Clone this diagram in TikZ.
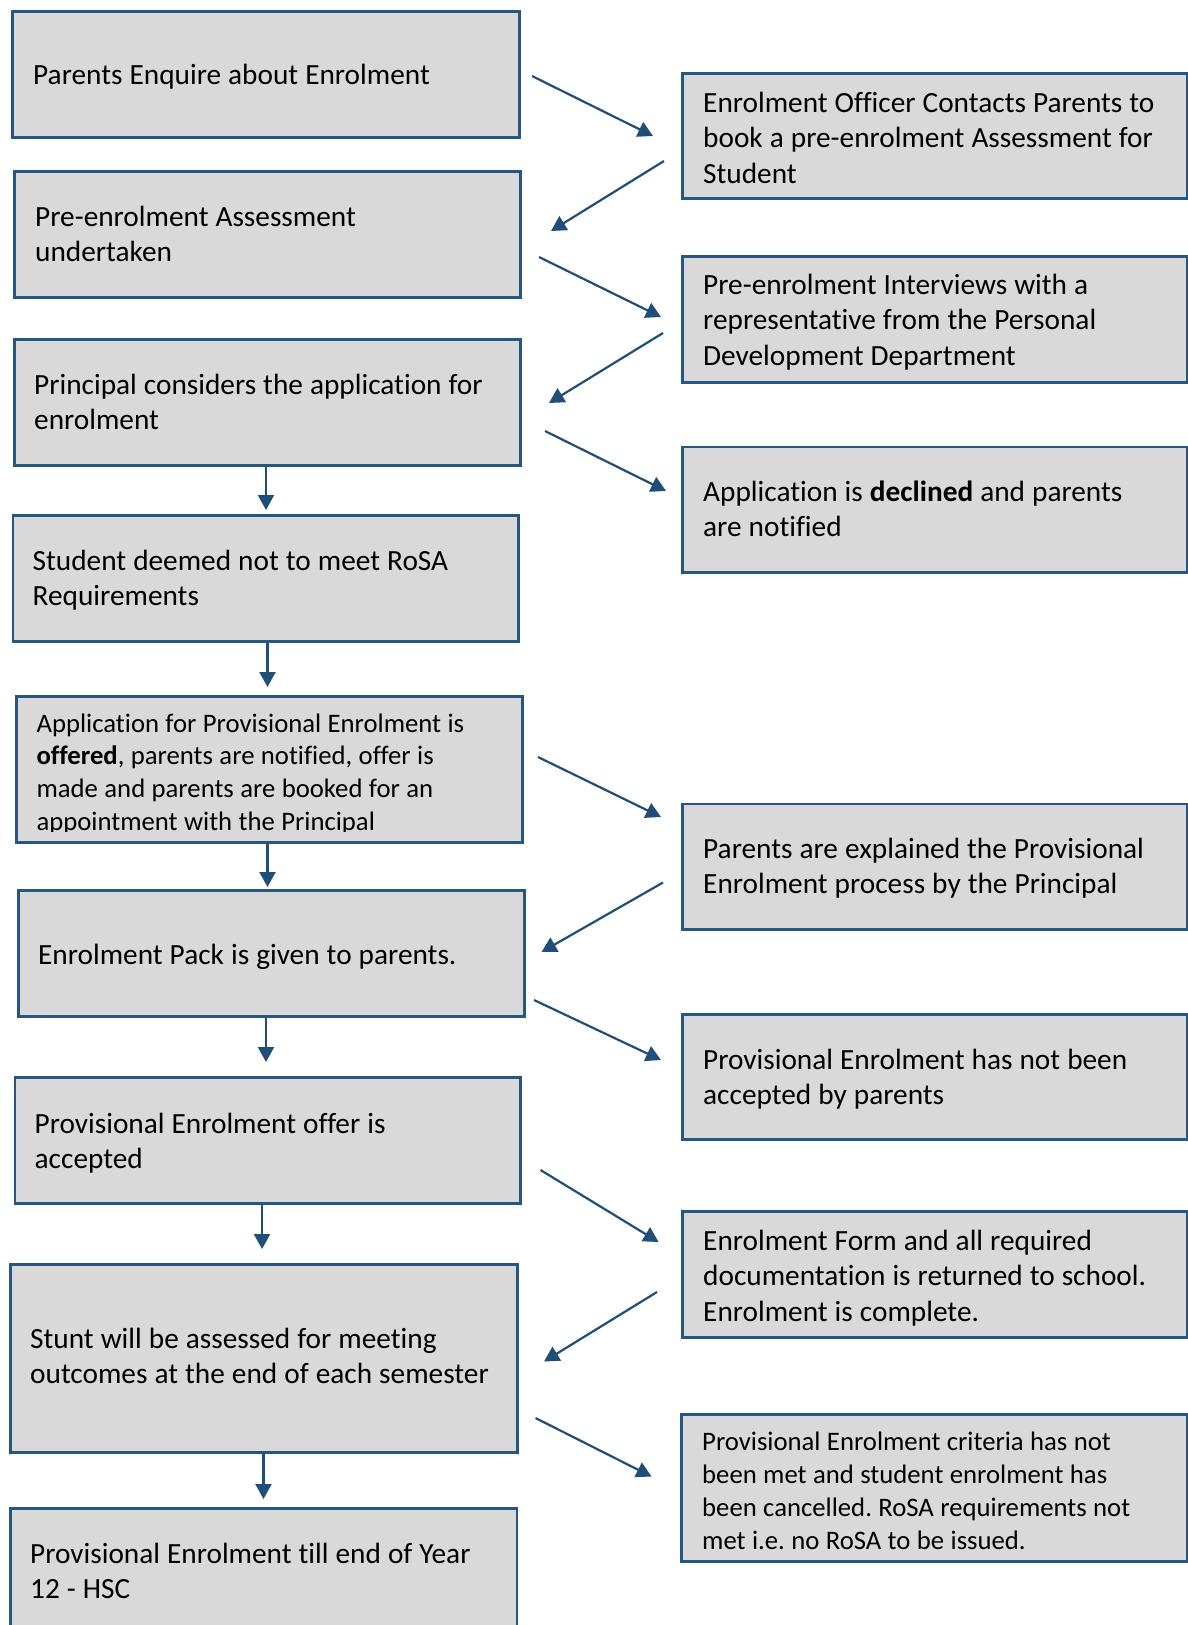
\documentclass[tikz,border=0pt]{standalone}
\usepackage{fontspec}
\setmainfont{Carlito}[Ligatures=NoCommon]
\usetikzlibrary{arrows.meta}
\definecolor{boxfill}{HTML}{D9D9D9}
\definecolor{boxline}{HTML}{285683}
\definecolor{arrowc}{HTML}{1F4E79}
\frenchspacing
\newcommand\wsp{\spaceskip=0.24em\relax\xspaceskip=0.24em\relax}
\begin{document}
\begin{tikzpicture}[x=1pt,y=-1pt,
  box/.style={draw=boxline, line width=2.5pt, fill=boxfill, rectangle, inner sep=0pt, anchor=north west},
  txt/.style={anchor=base west, inner sep=0pt, text width=500pt, align=left, font=\fontsize{29.3}{35.8}\selectfont},
  smalltxt/.style={anchor=base west, inner sep=0pt, text width=500pt, align=left, font=\fontsize{26.7}{32.9}\selectfont},
  arr/.style={draw=arrowc, line width=2.2pt, -{Triangle[length=15pt,width=16pt]}}]
\useasboundingbox (0,0) rectangle (1187,1625);
\fill[white] (0,0) rectangle (1187,1625);

% left column boxes
\node[box, minimum width=507pt, minimum height=126pt] (B1) at (11,10) {};
\node[box, minimum width=506pt, minimum height=126pt] (B2) at (13,170) {};
\node[box, minimum width=506pt, minimum height=126pt] (B3) at (13,338) {};
\node[box, minimum width=505.5pt, minimum height=126pt] (B4) at (11.5,514) {};
\node[box, minimum width=506pt, minimum height=146pt] (B5) at (15,695) {};
\node[box, minimum width=506pt, minimum height=126pt] (B6) at (17,889) {};
\node[box, minimum width=505.5pt, minimum height=126pt] (B7) at (13.5,1076) {};
\node[box, minimum width=507pt, minimum height=188pt] (B8) at (9,1263) {};
\node[box, minimum width=506.5pt, minimum height=127pt] (B9) at (9,1507) {};

% right column boxes
\node[box, minimum width=505pt, minimum height=125pt] (R1) at (681,72) {};
\node[box, minimum width=505pt, minimum height=126pt] (R2) at (681,255) {};
\node[box, minimum width=505pt, minimum height=125.5pt] (R3) at (681,445.5) {};
\node[box, minimum width=505pt, minimum height=125.5pt] (R4) at (681,802.5) {};
\node[box, minimum width=505pt, minimum height=125pt] (R5) at (681,1013) {};
\node[box, minimum width=505pt, minimum height=126pt] (R6) at (681,1210) {};
\node[box, minimum width=506pt, minimum height=147pt] (R7) at (680,1413) {};

% texts
\node[txt] (T1) at (33,84) {\wsp Parents Enquire about Enrolment};
\node[txt] (T2) at (35,226) {\wsp Pre-enrolment Assessment\\undertaken};
\node[txt] (T3) at (34,394) {\wsp Principal considers the application for\\enrolment};
\node[txt] (T4) at (32.5,570) {\wsp Student deemed not to meet RoSA\\Requirements};
\begin{scope}
\clip (15,695) rectangle (521,831);
\node[smalltxt] (T5) at (36.4,732) {\wsp Application for Provisional Enrolment is\\\textbf{offered}, parents are notified, offer is\\made and parents are booked for an\\appointment with the Principal};
\end{scope}
\node[txt] (T6) at (38,964) {\wsp Enrolment Pack is given to parents.};
\node[txt] (T7) at (34.5,1133) {\wsp Provisional Enrolment offer is\\accepted};
\node[txt] (T8) at (30,1348) {\wsp Stunt will be assessed for meeting\\outcomes at the end of each semester};
\node[txt] (T9) at (30,1563) {\wsp Provisional Enrolment till end of Year\\12 - HSC};

\node[txt] (TR1) at (703,112) {\wsp Enrolment Officer Contacts Parents to\\book a pre-enrolment Assessment for\\Student};
\node[txt] (TR2) at (703,294) {\wsp Pre-enrolment Interviews with a\\representative from the Personal\\Development Department};
\node[txt] (TR3) at (703,501) {\wsp Application is \textbf{declined} and parents\\are notified};
\node[txt] (TR4) at (703,858) {\wsp Parents are explained the Provisional\\Enrolment process by the Principal};
\node[txt] (TR5) at (703,1069) {\wsp Provisional Enrolment has not been\\accepted by parents};
\node[txt] (TR6) at (703,1250) {\wsp Enrolment Form and all required\\documentation is returned to school.\\Enrolment is complete.};
\node[smalltxt] (TR7) at (702,1450.5) {\wsp Provisional Enrolment criteria has not\\been met and student enrolment has\\been cancelled. RoSA requirements not\\met i.e. no RoSA to be issued.};

% diagonal arrow end points
\coordinate (a1s) at (532,76);    \coordinate (a1e) at (653,136);
\coordinate (a2s) at (664,161);   \coordinate (a2e) at (551,231);
\coordinate (a3s) at (539,257);   \coordinate (a3e) at (661,317);
\coordinate (a4s) at (663,333);   \coordinate (a4e) at (549,403);
\coordinate (a5s) at (545,431);   \coordinate (a5e) at (666,491);
\coordinate (a6s) at (538,757);   \coordinate (a6e) at (661,817);
\coordinate (a7s) at (663,882.5); \coordinate (a7e) at (541.5,952);
\coordinate (a8s) at (534,1000);  \coordinate (a8e) at (661,1060);
\coordinate (a9s) at (540.5,1170);\coordinate (a9e) at (658.6,1242);
\coordinate (a10s) at (657,1292); \coordinate (a10e) at (544,1361.5);
\coordinate (a11s) at (535.5,1418);\coordinate (a11e) at (651.5,1476.5);

\draw[arr] (a1s) -- (a1e);
\draw[arr] (a2s) -- (a2e);
\draw[arr] (a3s) -- (a3e);
\draw[arr] (a4s) -- (a4e);
\draw[arr] (a5s) -- (a5e);
\draw[arr] (a6s) -- (a6e);
\draw[arr] (a7s) -- (a7e);
\draw[arr] (a8s) -- (a8e);
\draw[arr] (a9s) -- (a9e);
\draw[arr] (a10s) -- (a10e);
\draw[arr] (a11s) -- (a11e);

% vertical arrows
\coordinate (v1) at (266,510);
\coordinate (v2) at (267.5,687);
\coordinate (v3) at (267.5,887);
\coordinate (v4) at (266,1062);
\coordinate (v5) at (262,1249);
\coordinate (v6) at (263.5,1499);
\draw[arr] (B3.south -| v1) -- (v1);
\draw[arr] (B4.south -| v2) -- (v2);
\draw[arr] (B5.south -| v3) -- (v3);
\draw[arr] (B6.south -| v4) -- (v4);
\draw[arr] (B7.south -| v5) -- (v5);
\draw[arr] (B8.south -| v6) -- (v6);
\end{tikzpicture}
\end{document}
